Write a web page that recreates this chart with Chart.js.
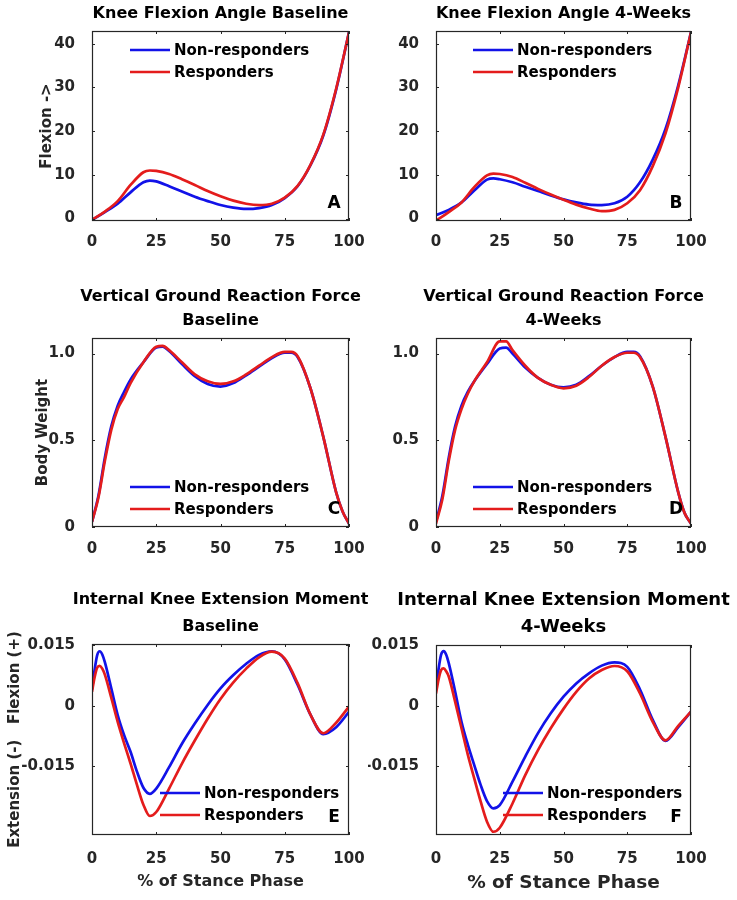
<!DOCTYPE html>
<html>
<head>
<meta charset="utf-8">
<script src="https://cdn.jsdelivr.net/npm/chart.js@4.4.1/dist/chart.umd.min.js"></script>
<style>
  body { margin: 0; background: #fff; }
  #wrap { position: relative; width: 737px; height: 900px; }
  #wrap canvas { position: absolute; left: 0; top: 0; }
</style>
</head>
<body>
<div id="wrap">
  <canvas id="pA" width="737" height="900"></canvas>
  <canvas id="pB" width="737" height="900"></canvas>
  <canvas id="pC" width="737" height="900"></canvas>
  <canvas id="pD" width="737" height="900"></canvas>
  <canvas id="pE" width="737" height="900"></canvas>
  <canvas id="pF" width="737" height="900"></canvas>
</div>
<script>
// % of stance phase sample points
const stanceKnee = [0, 5, 10, 15, 20, 22.5, 25, 30, 35, 40, 45, 50, 55, 60, 65, 70, 75, 80, 85, 90, 95, 100];
const stanceGrf = [0, 2.5, 5, 7.5, 10, 12.5, 15, 20, 25, 27.5, 30, 35, 40, 45, 50, 55, 60, 65, 70, 75, 77.5, 80, 85, 90, 95, 97.5, 100];
const stanceMom = [0, 1, 2, 3, 4, 5, 7.5, 10, 12.5, 15, 17.5, 20, 22.5, 25, 30, 35, 40, 45, 50, 55, 60, 65, 70, 75, 80, 85, 90, 95, 100];

// A - knee flexion angle, baseline
const angleBaseNon = [-0.3, 1.5, 3.4, 6.0, 8.3, 8.7, 8.5, 7.4, 6.2, 5.0, 4.0, 3.1, 2.5, 2.2, 2.4, 3.1, 4.7, 7.4, 12.2, 19.0, 29.5, 42.6];
const angleBaseResp = [-0.3, 1.6, 4.0, 7.7, 10.6, 11.0, 10.9, 10.2, 9.0, 7.7, 6.3, 5.1, 4.1, 3.4, 3.1, 3.4, 4.8, 7.5, 12.3, 19.2, 29.7, 42.6];
// B - knee flexion angle, 4 weeks
const angle4wNon = [0.8, 2.0, 3.7, 6.4, 8.9, 9.2, 9.0, 8.3, 7.3, 6.3, 5.3, 4.4, 3.7, 3.2, 3.1, 3.5, 5.0, 8.3, 13.5, 20.5, 30.5, 42.6];
const angle4wResp = [-0.5, 1.5, 3.7, 7.2, 9.9, 10.3, 10.2, 9.5, 8.2, 6.8, 5.5, 4.3, 3.2, 2.3, 1.7, 2.0, 3.5, 6.5, 12.0, 19.5, 30.0, 42.6];

// C - vertical GRF, baseline
const grfBaseNon = [0.03, 0.18, 0.40, 0.58, 0.70, 0.78, 0.85, 0.95, 1.035, 1.04, 1.015, 0.94, 0.87, 0.825, 0.81, 0.83, 0.875, 0.925, 0.975, 1.005, 1.005, 0.98, 0.80, 0.52, 0.20, 0.09, 0.02];
const grfBaseResp = [0.03, 0.17, 0.38, 0.56, 0.68, 0.75, 0.83, 0.95, 1.04, 1.045, 1.02, 0.95, 0.88, 0.84, 0.825, 0.84, 0.88, 0.93, 0.98, 1.01, 1.01, 0.985, 0.80, 0.52, 0.20, 0.09, 0.02];
// D - vertical GRF, 4 weeks
const grf4wNon = [0.03, 0.18, 0.40, 0.58, 0.70, 0.78, 0.84, 0.94, 1.03, 1.035, 1.00, 0.92, 0.86, 0.82, 0.805, 0.82, 0.87, 0.93, 0.98, 1.01, 1.01, 0.985, 0.81, 0.52, 0.20, 0.08, 0.02];
const grf4wResp = [0.02, 0.16, 0.38, 0.56, 0.68, 0.77, 0.84, 0.95, 1.07, 1.07, 1.02, 0.93, 0.86, 0.82, 0.80, 0.815, 0.865, 0.93, 0.98, 1.005, 1.005, 0.98, 0.81, 0.52, 0.20, 0.08, 0.02];

// E - internal knee extension moment, baseline
const momBaseNon = [0.0040, 0.0088, 0.0125, 0.0135, 0.0127, 0.0108, 0.0043, -0.0023, -0.0073, -0.0114, -0.0163, -0.0203, -0.0218, -0.0205, -0.0152, -0.0094, -0.0044, 0.0002, 0.0043, 0.0076, 0.0104, 0.0126, 0.0135, 0.0115, 0.0052, -0.0022, -0.0070, -0.0053, -0.0015];
const momBaseResp = [0.0035, 0.0070, 0.0094, 0.0099, 0.0092, 0.0077, 0.0020, -0.0040, -0.0093, -0.0143, -0.0196, -0.0245, -0.0273, -0.0263, -0.0205, -0.0143, -0.0086, -0.0032, 0.0017, 0.0058, 0.0092, 0.0120, 0.0134, 0.0117, 0.0056, -0.0022, -0.0068, -0.0042, -0.0002];
// F - internal knee extension moment, 4 weeks
const mom4wNon = [0.0040, 0.0090, 0.0126, 0.0135, 0.0126, 0.0105, 0.0035, -0.0040, -0.0097, -0.0147, -0.0196, -0.0236, -0.0254, -0.0246, -0.0188, -0.0126, -0.0068, -0.0019, 0.0022, 0.0055, 0.0080, 0.0099, 0.0107, 0.0096, 0.0040, -0.0035, -0.0087, -0.0053, -0.0015];
const mom4wResp = [0.0030, 0.0065, 0.0088, 0.0092, 0.0085, 0.0072, 0.0010, -0.0056, -0.0122, -0.0180, -0.0237, -0.0287, -0.0312, -0.0302, -0.0242, -0.0172, -0.0110, -0.0056, -0.0008, 0.0034, 0.0067, 0.0088, 0.0098, 0.0085, 0.0030, -0.0040, -0.0086, -0.0050, -0.0015];

// tick values / labels
const xTicks = [0, 25, 50, 75, 100];
const angleTicks = [0, 10, 20, 30, 40];
const angleTickLabels = ['0', '10', '20', '30', '40'];
const grfTicks = [0, 0.5, 1.0];
const grfTickLabels = ['0', '0.5', '1.0'];
const momTicks = [-0.015, 0, 0.015];
const momTickLabels = ['-0.015', '0', '0.015'];

const BLUE = '#1212e8';
const RED = '#e41c1c';
const FONT = '"DejaVu Sans", sans-serif';
const AXIS = '#262626';

Chart.defaults.font.family = FONT;
Chart.defaults.font.weight = 'bold';

// box, inward ticks, title, panel letter and legend drawn on top
const panelDecor = {
  id: 'panelDecor',
  afterDraw(chart, args, o) {
    const { ctx, chartArea: a, scales } = chart;
    ctx.save();
    ctx.strokeStyle = AXIS;
    ctx.lineWidth = 1.2;
    ctx.strokeRect(a.left + 0.5, a.top + 0.5, a.right - a.left - 1, a.bottom - a.top - 1);

    ctx.lineWidth = 1;
    ctx.beginPath();
    scales.x.ticks.forEach(t => {
      const px = Math.round(scales.x.getPixelForValue(t.value)) + 0.5;
      ctx.moveTo(px, a.bottom); ctx.lineTo(px, a.bottom - 3);
      ctx.moveTo(px, a.top); ctx.lineTo(px, a.top + 3);
    });
    scales.y.ticks.forEach(t => {
      const py = Math.round(scales.y.getPixelForValue(t.value)) + 0.5;
      ctx.moveTo(a.left, py); ctx.lineTo(a.left + 3, py);
      ctx.moveTo(a.right, py); ctx.lineTo(a.right - 3, py);
    });
    ctx.stroke();

    ctx.fillStyle = '#000';
    ctx.textAlign = 'center';
    ctx.textBaseline = 'middle';
    ctx.font = 'bold ' + o.titleSize + 'px ' + FONT;
    const cx = (a.left + a.right) / 2;
    const n = o.title.length;
    o.title.forEach((line, i) => {
      ctx.fillText(line, cx, a.top - o.titleGap - (n - 1 - i) * o.titleLead);
    });

    ctx.font = 'bold 17px ' + FONT;
    ctx.fillText(o.letter, a.right - 15, a.bottom - 17);

    // legend
    ctx.textAlign = 'left';
    ctx.font = 'bold 15px ' + FONT;
    const lx = a.left + o.legendDx;
    let ly = o.legendTop ? a.top + o.legendDy : a.bottom - o.legendDy;
    chart.data.datasets.forEach(ds => {
      ctx.strokeStyle = ds.borderColor;
      ctx.lineWidth = 2.7;
      ctx.beginPath();
      ctx.moveTo(lx, ly); ctx.lineTo(lx + 40, ly);
      ctx.stroke();
      ctx.fillStyle = '#000';
      ctx.fillText(ds.label, lx + 44, ly + 1);
      ly += 22;
    });
    ctx.restore();
  }
};

function makePanel(id, cfg) {
  const [l, t, r, b] = cfg.box;
  const pts = vals => cfg.x.map((v, i) => ({ x: v, y: vals[i] }));
  new Chart(document.getElementById(id), {
    type: 'line',
    data: {
      datasets: [
        { label: 'Non-responders', data: pts(cfg.non), borderColor: BLUE, order: 1 },
        { label: 'Responders', data: pts(cfg.resp), borderColor: RED, order: 0 }
      ]
    },
    options: {
      responsive: false,
      animation: false,
      layout: { padding: { left: l - cfg.yw, top: t, right: 737 - r, bottom: 900 - b - cfg.xh } },
      elements: {
        point: { radius: 0 },
        line: { borderWidth: 2.7, cubicInterpolationMode: 'monotone' }
      },
      plugins: {
        legend: { display: false },
        tooltip: { enabled: false },
        panelDecor: cfg.decor
      },
      scales: {
        x: {
          type: 'linear',
          min: 0,
          max: 100,
          afterBuildTicks: s => { s.ticks = xTicks.map(v => ({ value: v })); },
          afterFit: s => { s.height = cfg.xh; },
          grid: { display: false },
          border: { display: false },
          ticks: { padding: cfg.xPad, color: AXIS, maxRotation: 0, autoSkip: false, font: { size: 15 } },
          title: {
            display: !!cfg.xTitle,
            text: cfg.xTitle || '',
            color: AXIS,
            padding: 0,
            font: { size: cfg.xTitleSize || 16 }
          }
        },
        y: {
          type: 'linear',
          min: cfg.yMin,
          max: cfg.yMax,
          afterBuildTicks: s => { s.ticks = cfg.yTicks.map(v => ({ value: v })); },
          afterFit: s => { s.width = cfg.yw; },
          grid: { display: false },
          border: { display: false },
          ticks: {
            padding: 9,
            color: AXIS,
            autoSkip: false,
            font: { size: 15 },
            callback: (v, i) => cfg.yLabels[i]
          },
          title: {
            display: !!cfg.yTitle,
            text: cfg.yTitle || '',
            color: AXIS,
            padding: { top: cfg.yTitlePad || 0, bottom: 0 },
            font: { size: 15 }
          }
        }
      }
    },
    plugins: [panelDecor]
  });
}

makePanel('pA', {
  box: [92, 31, 349, 221], yw: 92, xh: 30, xPad: 4,
  x: stanceKnee, non: angleBaseNon, resp: angleBaseResp,
  yMin: -0.55, yMax: 42.9, yTicks: angleTicks, yLabels: angleTickLabels,
  yTitle: 'Flexion ->', yTitlePad: 38,
  decor: { title: ['Knee Flexion Angle Baseline'], titleSize: 16, titleGap: 17, titleLead: 24,
           letter: 'A', legendDx: 38, legendDy: 19, legendTop: true }
});
makePanel('pB', {
  box: [436, 31, 691, 221], yw: 68, xh: 30, xPad: 4,
  x: stanceKnee, non: angle4wNon, resp: angle4wResp,
  yMin: -0.55, yMax: 42.9, yTicks: angleTicks, yLabels: angleTickLabels,
  decor: { title: ['Knee Flexion Angle 4-Weeks'], titleSize: 16, titleGap: 17, titleLead: 24,
           letter: 'B', legendDx: 37, legendDy: 19, legendTop: true }
});
makePanel('pC', {
  box: [92, 338, 349, 527], yw: 92, xh: 30, xPad: 5,
  x: stanceGrf, non: grfBaseNon, resp: grfBaseResp,
  yMin: 0, yMax: 1.09, yTicks: grfTicks, yLabels: grfTickLabels,
  yTitle: 'Body Weight', yTitlePad: 34,
  decor: { title: ['Vertical Ground Reaction Force', 'Baseline'], titleSize: 16, titleGap: 17, titleLead: 24,
           letter: 'C', legendDx: 38, legendDy: 40, legendTop: false }
});
makePanel('pD', {
  box: [436, 338, 691, 527], yw: 68, xh: 30, xPad: 5,
  x: stanceGrf, non: grf4wNon, resp: grf4wResp,
  yMin: 0, yMax: 1.09, yTicks: grfTicks, yLabels: grfTickLabels,
  decor: { title: ['Vertical Ground Reaction Force', '4-Weeks'], titleSize: 16, titleGap: 17, titleLead: 24,
           letter: 'D', legendDx: 37, legendDy: 40, legendTop: false }
});
makePanel('pE', {
  box: [92, 644, 349, 835], yw: 92, xh: 56, xPad: 7,
  x: stanceMom, non: momBaseNon, resp: momBaseResp,
  yMin: -0.032, yMax: 0.0153, yTicks: momTicks, yLabels: momTickLabels,
  yTitle: 'Extension (-)   Flexion (+)', yTitlePad: 6,
  xTitle: '% of Stance Phase', xTitleSize: 16,
  decor: { title: ['Internal Knee Extension Moment', 'Baseline'], titleSize: 16, titleGap: 17, titleLead: 27,
           letter: 'E', legendDx: 68, legendDy: 42, legendTop: false }
});
makePanel('pF', {
  box: [436, 645, 691, 835], yw: 68, xh: 59, xPad: 7,
  x: stanceMom, non: mom4wNon, resp: mom4wResp,
  yMin: -0.032, yMax: 0.015, yTicks: momTicks, yLabels: momTickLabels,
  xTitle: '% of Stance Phase', xTitleSize: 18.5,
  decor: { title: ['Internal Knee Extension Moment', '4-Weeks'], titleSize: 18, titleGap: 18, titleLead: 27,
           letter: 'F', legendDx: 67, legendDy: 42, legendTop: false }
});
</script>
</body>
</html>
